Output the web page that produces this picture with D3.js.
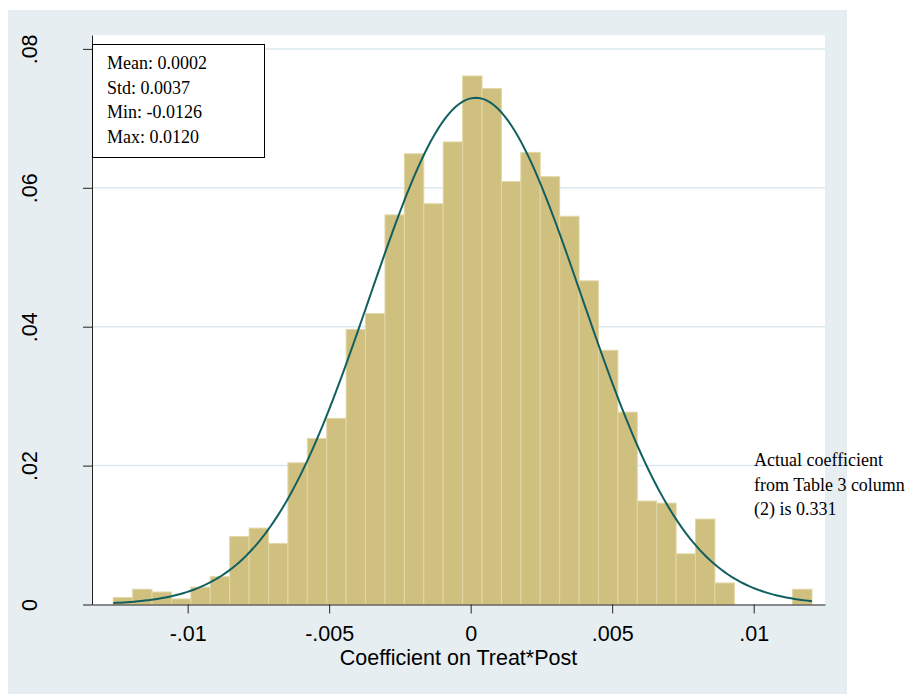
<!DOCTYPE html>
<html>
<head>
<meta charset="utf-8">
<script src="https://cdn.jsdelivr.net/npm/d3@7"></script>
<style>
  body { margin: 0; background: #fff; }
</style>
</head>
<body>
<div id="chart"></div>
<script>
// histogram data (fraction per bin), 36 bins from min to max
const histMin = -0.01263;
const histMax = 0.01206;
const binFractions = [
  0.0010, 0.0022, 0.0018, 0.0008, 0.0025, 0.0040, 0.0098, 0.0110, 0.0088,
  0.0204, 0.0239, 0.0268, 0.0396, 0.0419, 0.0561, 0.0649, 0.0577, 0.0666,
  0.0761, 0.0743, 0.0609, 0.0651, 0.0616, 0.0559, 0.0466, 0.0366, 0.0277,
  0.0149, 0.0146, 0.0073, 0.0123, 0.0031, 0, 0, 0, 0.0022
];
// summary stats shown in the box
const statLines = ['Mean: 0.0002', 'Std: 0.0037', 'Min: -0.0126', 'Max: 0.0120'];
const curveMean = 0.00018;
const curveStd = 0.00375;
const xTicks = [-0.01, -0.005, 0, 0.005, 0.01];
const yTicks = [0, 0.02, 0.04, 0.06, 0.08];
const noteLines = ['Actual coefficient', 'from Table 3 column', '(2) is 0.331'];

const svgWidth = 911;
const svgHeight = 694;
const plot = { left: 92, right: 825, top: 35, bottom: 604.5 };
const sansFont = 'Liberation Sans, Arial, sans-serif';
const serifFont = 'Liberation Serif, Times New Roman, serif';

const svg = d3.select('#chart').append('svg')
  .attr('width', svgWidth)
  .attr('height', svgHeight);

// graph region background
svg.append('rect')
  .attr('x', 8).attr('y', 10)
  .attr('width', 839).attr('height', svgHeight - 10)
  .attr('fill', '#e7eef2');

// plot region
svg.append('rect')
  .attr('x', plot.left).attr('y', plot.top)
  .attr('width', plot.right - plot.left).attr('height', plot.bottom - plot.top)
  .attr('fill', '#fff');

const x = d3.scaleLinear()
  .domain([-0.01338, 0.01252])
  .range([plot.left, plot.right]);
const y = d3.scaleLinear()
  .domain([0, 0.082])
  .range([plot.bottom, plot.top]);

// gridlines
svg.append('g')
  .selectAll('line')
  .data(yTicks.filter(d => d > 0))
  .enter()
  .append('line')
  .attr('x1', plot.left).attr('x2', plot.right)
  .attr('y1', d => y(d)).attr('y2', d => y(d))
  .attr('stroke', '#dde8ee')
  .attr('stroke-width', 1.5);

// bars
const binWidth = (histMax - histMin) / binFractions.length;
svg.append('g')
  .selectAll('rect')
  .data(binFractions)
  .enter()
  .append('rect')
  .attr('x', (d, i) => x(histMin + i * binWidth))
  .attr('y', d => y(d))
  .attr('width', x(histMin + binWidth) - x(histMin))
  .attr('height', d => y(0) - y(d))
  .attr('fill', '#cfc07f')
  .attr('stroke', d => d > 0 ? '#e2d7a6' : 'none')
  .attr('stroke-width', 1);

// normal density scaled to bin width
const curvePts = d3.range(0, 201).map(i => {
  const v = histMin + (histMax - histMin) * i / 200;
  const z = (v - curveMean) / curveStd;
  return [v, binWidth / (curveStd * Math.sqrt(2 * Math.PI)) * Math.exp(-0.5 * z * z)];
});
svg.append('path')
  .datum(curvePts)
  .attr('fill', 'none')
  .attr('stroke', '#125f5f')
  .attr('stroke-width', 2)
  .attr('d', d3.line().x(d => x(d[0])).y(d => y(d[1])));

const fmt = d => d === 0 ? '0' : String(d).replace('0.', '.');

// x axis
const xAxis = svg.append('g')
  .attr('transform', `translate(0, ${plot.bottom})`)
  .call(d3.axisBottom(x).tickValues(xTicks).tickSize(9).tickSizeOuter(0).tickFormat(fmt));
xAxis.selectAll('text')
  .attr('y', 36).attr('dy', 0)
  .attr('fill', '#000')
  .style('font-family', sansFont)
  .style('font-size', '21.5px');

// y axis
const yAxis = svg.append('g')
  .attr('transform', `translate(${plot.left}, 0)`)
  .call(d3.axisLeft(y).tickValues(yTicks).tickSize(9).tickSizeOuter(0).tickFormat(fmt));
yAxis.selectAll('text')
  .attr('x', 0).attr('y', -55).attr('dy', 0)
  .attr('transform', 'rotate(-90)')
  .attr('text-anchor', 'middle')
  .attr('fill', '#000')
  .style('font-family', sansFont)
  .style('font-size', '21.5px');
svg.selectAll('.domain, .tick line').attr('stroke', '#222');

// x axis title
svg.append('text')
  .attr('x', (plot.left + plot.right) / 2)
  .attr('y', 665)
  .attr('text-anchor', 'middle')
  .style('font-family', sansFont)
  .style('font-size', '21.5px')
  .text('Coefficient on Treat*Post');

// stats box
svg.append('rect')
  .attr('x', 92.5).attr('y', 44.5)
  .attr('width', 172).attr('height', 113)
  .attr('fill', '#fff')
  .attr('stroke', '#000');
svg.append('g')
  .selectAll('text')
  .data(statLines)
  .enter()
  .append('text')
  .attr('x', 107)
  .attr('y', (d, i) => 69 + i * 24.7)
  .style('font-family', serifFont)
  .style('font-size', '18px')
  .text(d => d);

// note on the right
svg.append('g')
  .selectAll('text')
  .data(noteLines)
  .enter()
  .append('text')
  .attr('x', 754)
  .attr('y', (d, i) => 466 + i * 24.5)
  .style('font-family', serifFont)
  .style('font-size', '18px')
  .text(d => d);
</script>
</body>
</html>
